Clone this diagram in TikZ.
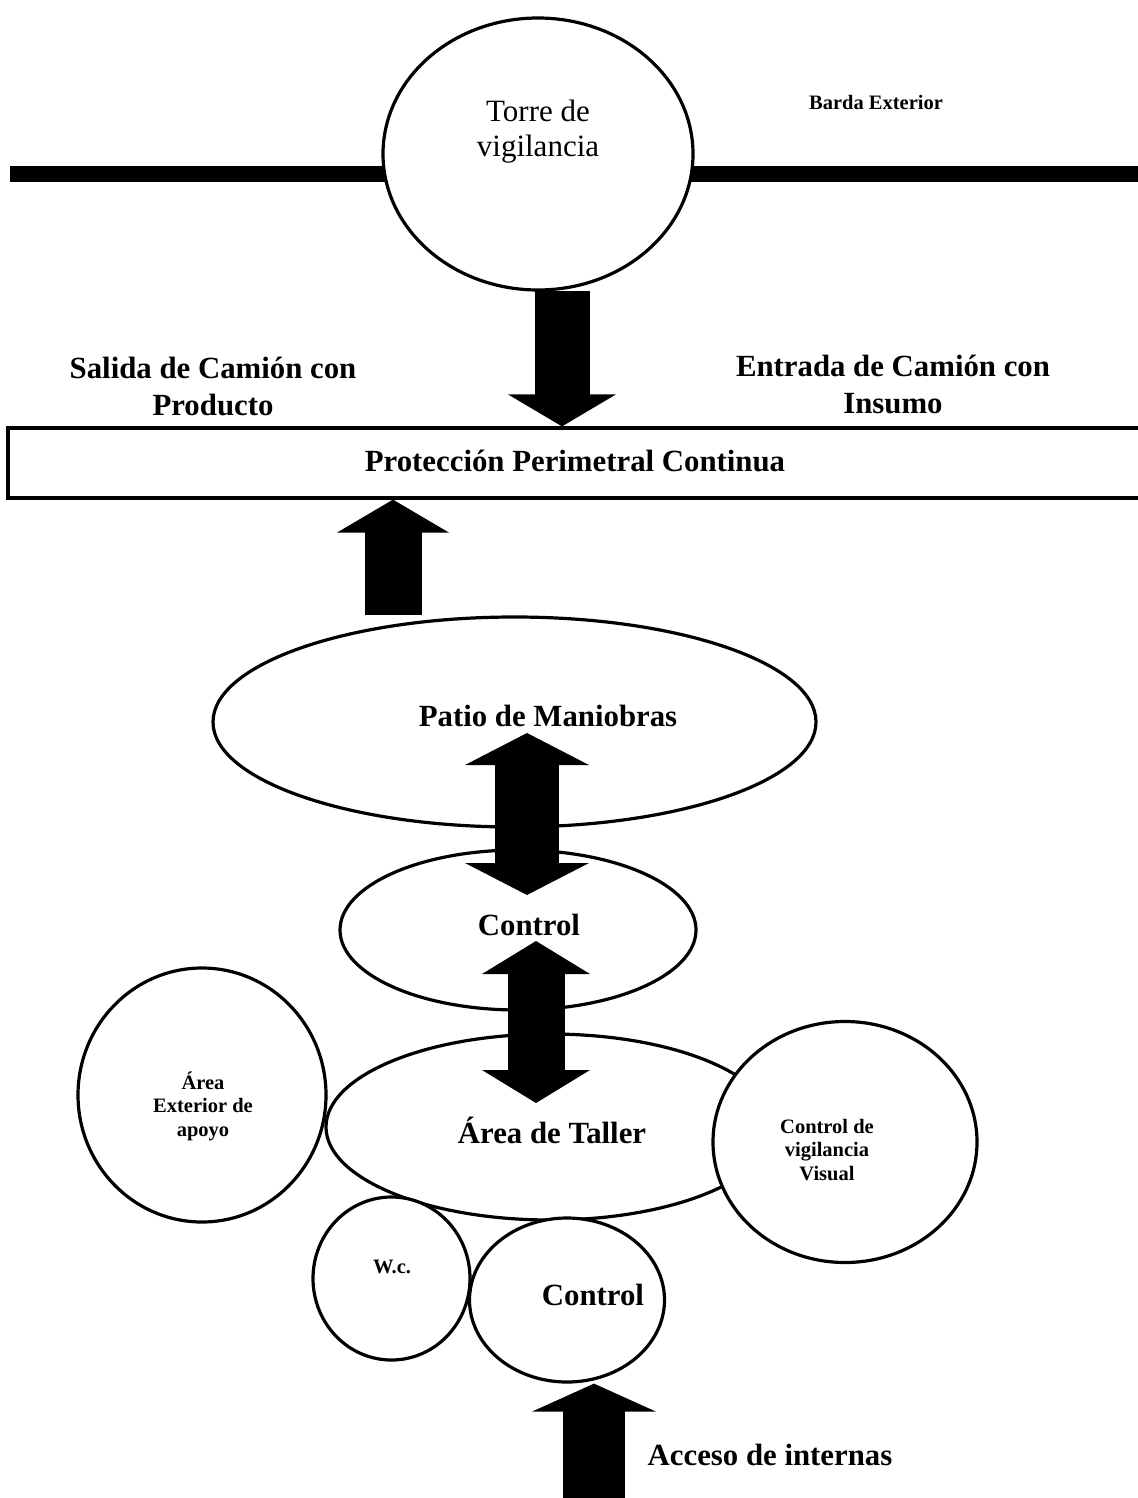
\documentclass[tikz,border=0pt]{standalone}
\usepackage{fontspec}
\setmainfont{Liberation Serif}
\usetikzlibrary{shapes.geometric,arrows.meta,calc}
\begin{document}
\begin{tikzpicture}[x=1pt,y=-1pt,
  outline/.style={draw=black,line width=3.2pt,fill=white,inner sep=0pt},
  oval/.style n args={2}{outline,ellipse,minimum width=#1,minimum height=#2},
  bigtxt/.style={font=\fontsize{30.8}{37}\selectfont\bfseries,inner sep=0pt,align=center},
  smalltxt/.style={font=\fontsize{20.5}{23.5}\selectfont\bfseries,inner sep=0pt,align=center},
  plaintxt/.style={font=\fontsize{31}{35}\selectfont,inner sep=0pt,align=center},
  wall/.style={draw=black,line width=16pt},
  bigarrow/.style n args={3}{draw=black,line width=#1,
    arrows={-Triangle[width=#2,length=#3,line width=0pt]},
    postaction={draw=black,line width=#1,arrows=-,shorten >={#3-3pt}}},
  dblarrow/.style n args={3}{draw=black,line width=#1,
    arrows={Triangle[width=#2,length=#3,line width=0pt]-Triangle[width=#2,length=#3,line width=0pt]},
    postaction={draw=black,line width=#1,arrows=-,shorten >={#3-3pt},shorten <={#3-3pt}}}
]
\useasboundingbox (0,0) rectangle (1137,1498);

% outer wall running through the watch tower
\draw[wall] (10,174) -- (1145,174);
\node[oval={310pt}{272pt}] (torre) at (538,154) {};
\node[plaintxt] (torretxt) at (538,131.5) {Torre de\\vigilancia};
\node[smalltxt,anchor=base] (barda) at (876,110) {Barda Exterior};

% truck traffic labels
\node[bigtxt] (salida) at (213,386) {Salida de Camión con\\Producto};
\node[bigtxt] (entrada) at (893,384) {Entrada de Camión con\\Insumo};

% perimeter band
\node[outline,rectangle,minimum width=1137pt,minimum height=70pt] (ppc) at (576.5,463) {};
\node[bigtxt,anchor=base] (ppctxt) at (575,471) {Protección Perimetral Continua};

% yard and first checkpoint
\node[oval={603pt}{210pt}] (patio) at (514.5,722) {};
\node[bigtxt,anchor=base] (patiotxt) at (548,726) {Patio de Maniobras};
\node[oval={356pt}{160pt}] (ctrlA) at (518,930) {};
\node[bigtxt,anchor=base] (ctrlAtxt) at (529,935) {Control};

% workshop cluster
\node[oval={448pt}{186pt}] (taller) at (550,1127) {};
\node[bigtxt,anchor=base] (tallertxt) at (552,1143) {Área de Taller};
\node[oval={248pt}{254pt}] (exterior) at (202,1095) {};
\node[smalltxt] (exteriortxt) at (203,1106) {Área\\Exterior de\\apoyo};
\node[oval={264pt}{241pt}] (visual) at (845,1142) {};
\node[smalltxt] (visualtxt) at (827,1150) {Control de\\vigilancia\\Visual};
\node[oval={157pt}{163pt}] (wc) at (391.5,1278.5) {};
\node[smalltxt,anchor=base] (wctxt) at (392,1273) {W.c.};
\node[oval={195pt}{164pt}] (ctrlB) at (567,1300) {};
\node[bigtxt,anchor=base] (ctrlBtxt) at (593,1305) {Control};
\node[bigtxt,anchor=base] (acceso) at (770,1465) {Acceso de internas};

% block arrows
\coordinate (a1) at ($(torre.south)+(24,-1)$);
\draw[bigarrow={55pt}{108pt}{32pt}] (a1) -- (a1 |- ppc.north);
\coordinate (a2) at ($(patio.north)+(-121.5,0)$);
\draw[bigarrow={57pt}{112pt}{33pt}] (a2) -- (a2 |- ppc.south);
\draw[dblarrow={64pt}{124pt}{32pt}] ($(patio.center)+(12.5,11)$) -- ($(ctrlA.center)+(9,-35)$);
\draw[dblarrow={57pt}{108pt}{33pt}] ($(ctrlA.center)+(18,11)$) -- ($(taller.center)+(-14,-24)$);
\coordinate (gate) at (594,1520);
\coordinate (a5) at ($(ctrlB.south)+(27,0)$);
\draw[bigarrow={62pt}{124pt}{28pt}] (gate) -- (a5);
\end{tikzpicture}
\end{document}
